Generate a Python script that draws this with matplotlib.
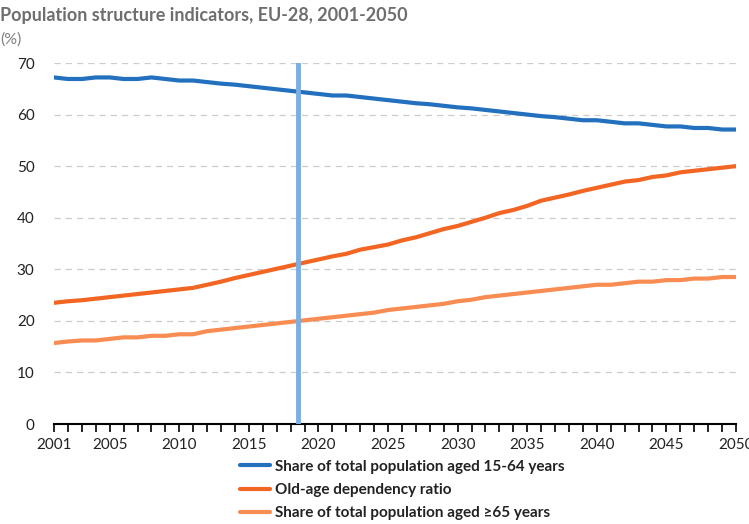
import numpy as np
import matplotlib
matplotlib.use("Agg")
import matplotlib.pyplot as plt
from matplotlib.ticker import MultipleLocator

years = list(range(2001, 2051))

share_15_64 = [
    67.2, 66.9, 66.9, 67.2, 67.2, 66.9, 66.9, 67.2, 66.9, 66.6,
    66.6, 66.3, 66.0, 65.8, 65.5, 65.2, 64.9, 64.6, 64.3, 64.0,
    63.7, 63.7, 63.4, 63.1, 62.8, 62.5, 62.2, 62.0, 61.7, 61.4,
    61.2, 60.9, 60.6, 60.3, 60.0, 59.7, 59.5, 59.2, 58.9, 58.9,
    58.6, 58.3, 58.3, 58.0, 57.7, 57.7, 57.4, 57.4, 57.1, 57.1,
]
old_age_ratio = [
    23.5, 23.8, 24.0, 24.3, 24.6, 24.9, 25.2, 25.5, 25.8, 26.1,
    26.4, 27.0, 27.6, 28.3, 28.9, 29.5, 30.1, 30.7, 31.3, 31.9,
    32.5, 33.0, 33.8, 34.3, 34.8, 35.6, 36.2, 37.0, 37.8, 38.4,
    39.2, 40.0, 40.9, 41.5, 42.3, 43.3, 43.9, 44.5, 45.2, 45.8,
    46.4, 47.0, 47.3, 47.9, 48.2, 48.8, 49.1, 49.4, 49.7, 50.0,
]
share_65_plus = [
    15.7, 16.0, 16.2, 16.2, 16.5, 16.8, 16.8, 17.1, 17.1, 17.4,
    17.4, 18.0, 18.3, 18.6, 18.9, 19.2, 19.5, 19.8, 20.1, 20.4,
    20.7, 21.0, 21.3, 21.6, 22.1, 22.4, 22.7, 23.0, 23.3, 23.8,
    24.1, 24.6, 24.9, 25.2, 25.5, 25.8, 26.1, 26.4, 26.7, 27.0,
    27.0, 27.3, 27.6, 27.6, 27.9, 27.9, 28.2, 28.2, 28.5, 28.5,
]
labels = [
    "Share of total population aged 15-64 years",
    "Old-age dependency ratio",
    "Share of total population aged \u226565 years",
]
xtick_years = [2001, 2005, 2010, 2015, 2020, 2025, 2030, 2035, 2040, 2045, 2050]
projection_start = 2018.5

colors = ["#2270BE", "#F26522", "#F88C52"]

plt.rcParams["font.family"] = ["Lato", "DejaVu Sans"]

fig = plt.figure(figsize=(7.49, 5.24), dpi=100)
ax = fig.add_axes([54 / 749, 100 / 524, 682 / 749, 361 / 524])

for series, lab, col in zip([share_15_64, old_age_ratio, share_65_plus], labels, colors):
    ax.plot(years, series, color=col, lw=3.0, label=lab, solid_capstyle="round", zorder=3)

ax.axvline(projection_start, color="#7BAEE2", lw=3.5, zorder=4)

ax.set_xlim(2001, 2050)
ax.set_ylim(0, 70)
ax.yaxis.set_major_locator(MultipleLocator(10))
ax.set_xticks(xtick_years)
ax.xaxis.set_minor_locator(MultipleLocator(1))
ax.grid(axis="y", color="#CCCCCC", ls=(0, (5, 4)), lw=0.9, zorder=0)

for s in ["top", "right", "left"]:
    ax.spines[s].set_visible(False)
ax.spines["bottom"].set_linewidth(1.5)
ax.tick_params(axis="y", length=0, pad=14, labelsize=11, labelcolor="#222222")
ax.tick_params(axis="x", which="both", direction="out", width=1.2, pad=4, labelsize=11, labelcolor="#222222")
ax.tick_params(axis="x", which="major", length=6)
ax.tick_params(axis="x", which="minor", length=6)

fig.text(0.0, 1 - 15 / 524, "Population structure indicators, EU-28, 2001-2050",
         fontsize=13, fontweight="bold", color="#6E6E6E", va="center",
         family=["Lato", "DejaVu Sans"])
fig.text(0.0, 1 - 40 / 524, "(%)", fontsize=11.5, color="#808080", va="center",
         family=["Lato", "DejaVu Sans"])

leg = fig.legend(loc="upper left", bbox_to_anchor=(226 / 749, 1 - 446 / 524),
                 frameon=False, handlelength=2.0, handletextpad=0.3,
                 labelspacing=0.6, prop={"weight": "bold", "size": 11})
for t in leg.get_texts():
    t.set_color("#222222")

fig.savefig("out.png", dpi=100)
